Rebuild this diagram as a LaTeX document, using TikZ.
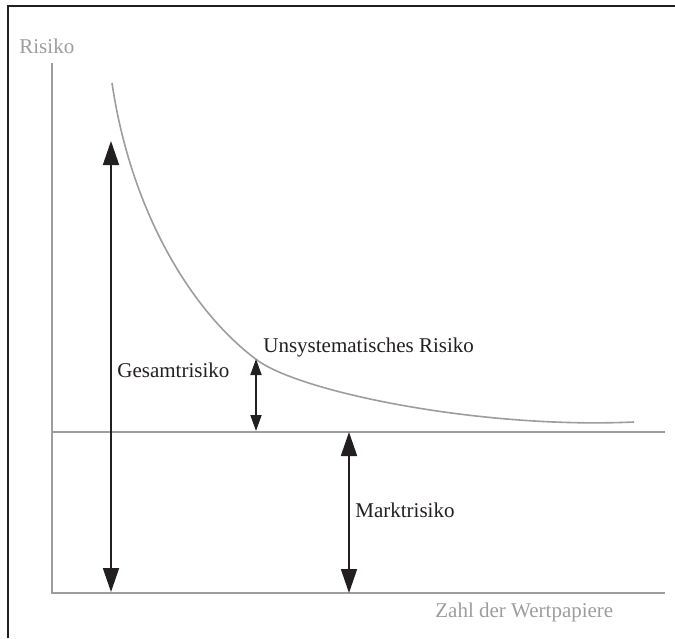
\documentclass[tikz,border=0pt]{standalone}
\usepackage{fontspec}
\setmainfont{Liberation Serif}
\usetikzlibrary{arrows.meta}
\definecolor{ink}{HTML}{231F20}
\definecolor{axisgray}{HTML}{9D9D9F}
\tikzset{
  frameline/.style={draw=ink, line width=1pt},
  axisline/.style={draw=axisgray, line width=1pt},
  riskcurve/.style={draw=axisgray, line width=0.8pt},
  bigarrow/.style={draw=ink, line width=0.9pt,
    {Triangle[width=8pt,length=12pt]}-{Triangle[width=8pt,length=12pt]}},
  smallarrow/.style={draw=ink, line width=0.9pt,
    {Triangle[width=5.5pt,length=8pt]}-{Triangle[width=5.5pt,length=8pt]}},
  axislabel/.style={text=axisgray, font=\fontsize{10.5pt}{12pt}\selectfont, inner sep=0pt, anchor=base west},
  risklabel/.style={text=ink, font=\fontsize{10.5pt}{12pt}\selectfont, inner sep=0pt, anchor=base west}
}
\begin{document}
\begin{tikzpicture}[x=0.5pt,y=-0.5pt]
  \useasboundingbox (0,0) rectangle (675,638);
  % frame (top and left edges)
  \draw[frameline] (7.5,638) -- (7.5,6) -- (675,6);

  % axes and market-risk level
  \coordinate (ytop) at (52,63);
  \coordinate (origin) at (52,593);
  \coordinate (xend) at (665,593);
  \coordinate (mleft) at (52,432);
  \coordinate (mright) at (665,432);
  \draw[axisline] (ytop) -- (origin) -- (xend);
  \draw[axisline] (mleft) -- (mright);

  % total risk curve
  \coordinate (cstart) at (112,83);
  \coordinate (cmid) at (257,360);
  \coordinate (cend) at (634,422);
  \draw[riskcurve] (cstart) .. controls (131,212) and (192,312) .. (cmid)
                          .. controls (300,392) and (480,429) .. (cend);

  % axis labels
  \node[axislabel] (risiko) at (19,53) {Risiko};
  \node[axislabel] (zahl) at (435,617) {Zahl der Wertpapiere};

  % arrow end points
  \coordinate (gtop) at (111,141);
  \coordinate (gbot) at (111,592);
  \coordinate (utop) at (256,359);
  \coordinate (ubot) at (256,431);
  \coordinate (mtop) at (349,432);
  \coordinate (mbot) at (349,593);

  \draw[bigarrow] (gtop) -- (gbot);
  \draw[smallarrow] (utop) -- (ubot);
  \draw[bigarrow] (mtop) -- (mbot);

  % arrow labels
  \node[risklabel] (gesamt) at (117,377) {Gesamtrisiko};
  \node[risklabel] (unsys) at (263,352) {Unsystematisches Risiko};
  \node[risklabel] (markt) at (355,517) {Marktrisiko};
\end{tikzpicture}
\end{document}
